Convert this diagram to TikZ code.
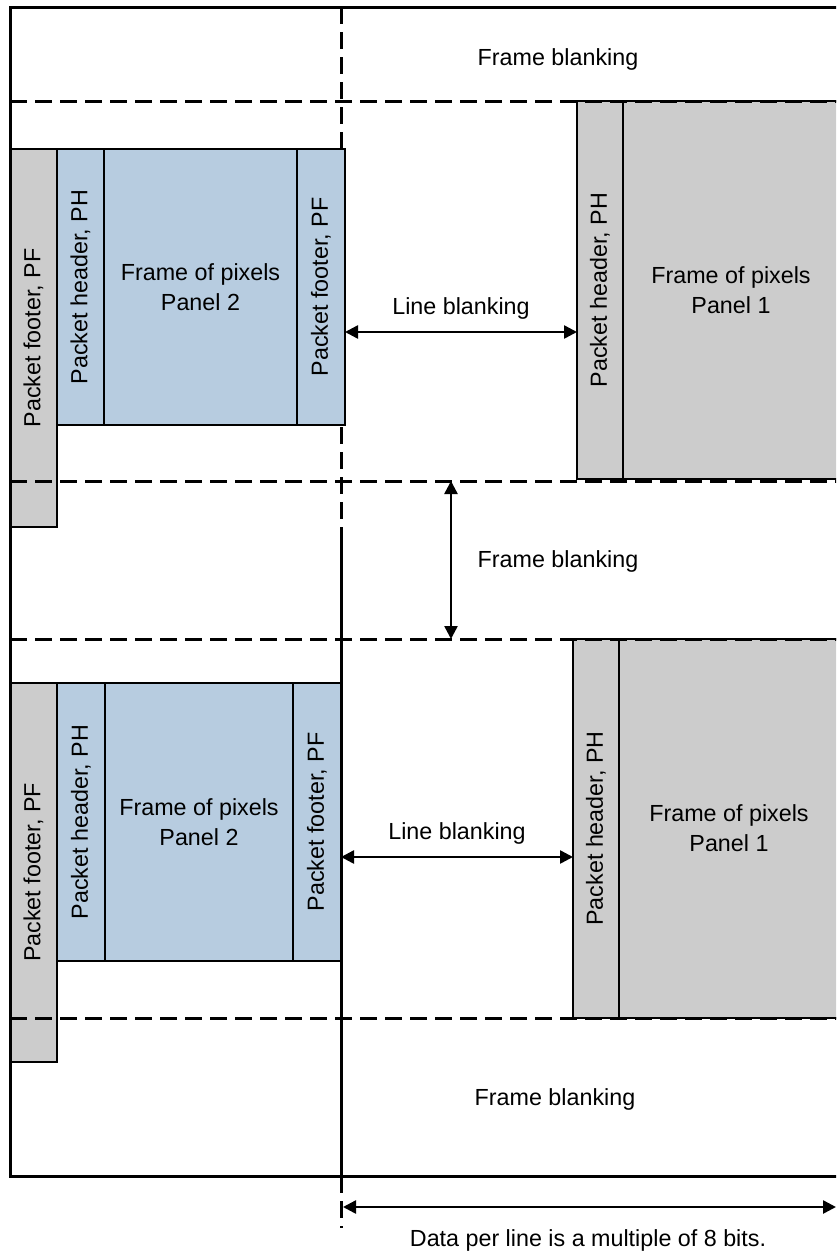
\documentclass[tikz,border=0pt]{standalone}
\usepackage{fontspec}
\setmainfont{Liberation Sans}
\usetikzlibrary{arrows.meta}
\definecolor{bluefill}{HTML}{B7CCE0}
\definecolor{grayfill}{HTML}{CCCCCC}
\begin{document}
\begin{tikzpicture}[x=1pt,y=-1pt,
  txt/.style={font=\fontsize{23.3}{30}\selectfont, align=center, inner sep=0pt},
  box/.style={draw=black, line width=2pt, inner sep=0pt, outer sep=0pt, txt},
  bbox/.style={box, fill=bluefill},
  gbox/.style={box, fill=grayfill},
  vbox/.style={rotate=90},
  solidline/.style={line width=3pt, line cap=rect},
  dashline/.style={line width=3pt, dash pattern=on 17pt off 8pt},
  dimarrow/.style={line width=2.5pt, {Triangle[length=13pt,width=13pt]}-{Triangle[length=13pt,width=13pt]}}]
\useasboundingbox (0,0) rectangle (836,1253);
\clip (0,0) rectangle (836,1253);
\fill[white] (0,0) rectangle (836,1253);

% upper panel 2 group
\node[gbox, vbox, minimum width=378pt, minimum height=47pt] (pfL1) at (33.5,338) {Packet footer, PF};
\node[bbox, vbox, minimum width=276pt, minimum height=47pt] (ph2a) at (80.5,287) {Packet header, PH};
\node[bbox, minimum width=193pt, minimum height=276pt] (fr2a) at (200.5,287) {Frame of pixels\\Panel 2};
\node[bbox, vbox, minimum width=276pt, minimum height=48pt] (pfR1) at (321,287) {Packet footer, PF};

% lower panel 2 group
\node[gbox, vbox, minimum width=379pt, minimum height=47pt] (pfL2) at (33.5,872.5) {Packet footer, PF};
\node[bbox, vbox, minimum width=278pt, minimum height=48pt] (ph2b) at (81,822) {Packet header, PH};
\node[bbox, minimum width=188pt, minimum height=278pt] (fr2b) at (199,822) {Frame of pixels\\Panel 2};
\node[bbox, vbox, minimum width=278pt, minimum height=48pt] (pfR2) at (317,822) {Packet footer, PF};

% panel 1 groups
\node[gbox, vbox, minimum width=378pt, minimum height=46pt] (ph1a) at (600,290) {Packet header, PH};
\node[gbox, minimum width=216pt, minimum height=378pt] (fr1a) at (731,290) {Frame of pixels\\Panel 1};
\node[gbox, vbox, minimum width=379pt, minimum height=46pt] (ph1b) at (596,828.5) {Packet header, PH};
\node[gbox, minimum width=220pt, minimum height=379pt] (fr1b) at (729,828.5) {Frame of pixels\\Panel 1};

% outer frame
\draw[solidline] (10,1176) -- (10,7) -- (850,7);
\draw[solidline] (10,1176) -- (850,1176);

% vertical divider
\draw[dashline] (341,7) -- (341,149);
\draw[dashline] (341,427) -- (341,530);
\draw[solidline, line cap=butt] (341,530) -- (341,1176);
\draw[dashline] (341,1176) -- (341,1228);

% horizontal dashed lines
\draw[dashline] (10,101) -- (850,101);
\draw[dashline] (10,481) -- (850,481);
\draw[dashline] (10,639) -- (850,639);
\draw[dashline] (10,1018) -- (850,1018);

% labels
\node[txt] (fbtop) at (558,59) {Frame blanking};
\node[txt] (fbmid) at (558,561) {Frame blanking};
\node[txt] (fbbot) at (555,1099) {Frame blanking};

% line blanking arrows
\draw[dimarrow] (pfR1.south |- 0,332) -- (ph1a.north |- 0,332);
\node[txt] (lb1) at (461,308) {Line blanking};
\draw[dimarrow] (pfR2.south |- 0,857) -- (ph1b.north |- 0,857);
\node[txt] (lb2) at (457,833) {Line blanking};

% frame blanking arrow
\coordinate (fbA) at (451,481);
\coordinate (fbB) at (451,639);
\draw[dimarrow] (fbA) -- (fbB);

% data per line
\coordinate (dlL) at (343,1207);
\coordinate (dlR) at (836,1207);
\draw[dimarrow] (dlL) -- (dlR);
\node[txt] (dpl) at (588,1240) {Data per line is a multiple of 8 bits.};
\end{tikzpicture}
\end{document}
